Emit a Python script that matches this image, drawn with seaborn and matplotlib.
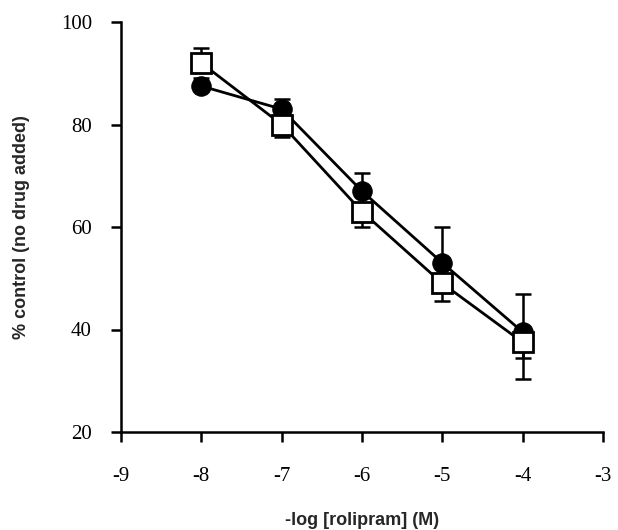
import matplotlib
matplotlib.use("Agg")
import matplotlib.pyplot as plt
import seaborn as sns
import pandas as pd

log_conc = [-8, -7, -6, -5, -4]
circle_vals = [87.5, 83, 67, 53, 39.5]
circle_err_low = [0, 0, 0, 0, 5]
circle_err_high = [1.5, 2, 3.5, 7, 7.5]
square_vals = [92, 80, 63, 49, 37.5]
square_err_low = [0, 2.5, 3, 3.5, 7.2]
square_err_high = [3, 0, 0, 0, 0]

df = pd.DataFrame({
    "x": log_conc * 2,
    "y": circle_vals + square_vals,
    "series": ["circle"] * 5 + ["square"] * 5,
})

sns.set_style("white")
plt.rcParams["axes.unicode_minus"] = False
fig = plt.figure(figsize=(6.18, 5.30), dpi=100)
ax = fig.add_axes([121/618, 1 - 432/530, (603-121)/618, (432-22)/530])

# error bars
ax.errorbar(log_conc, circle_vals, yerr=[circle_err_low, circle_err_high], fmt="none",
            ecolor="black", elinewidth=1.8, capsize=6, capthick=1.8, zorder=2)
ax.errorbar(log_conc, square_vals, yerr=[square_err_low, square_err_high], fmt="none",
            ecolor="black", elinewidth=1.8, capsize=6, capthick=1.8, zorder=2)

sns.lineplot(data=df[df.series == "circle"], x="x", y="y", color="black", lw=2,
             marker="o", markersize=14, markerfacecolor="black",
             markeredgecolor="black", ax=ax, zorder=3)
sns.lineplot(data=df[df.series == "square"], x="x", y="y", color="black", lw=2,
             marker="s", markersize=14, markerfacecolor="white",
             markeredgecolor="black", markeredgewidth=2, ax=ax, zorder=4)

ax.set_xlim(-9, -3)
ax.set_ylim(20, 100)
ax.set_xticks([-9, -8, -7, -6, -5, -4, -3])
ax.set_yticks([20, 40, 60, 80, 100])
for s in ["top", "right"]:
    ax.spines[s].set_visible(False)
for s in ["left", "bottom"]:
    ax.spines[s].set_linewidth(1.8)
    ax.spines[s].set_color("black")
ax.tick_params(axis="both", direction="out", length=7, width=1.8, colors="black",
               labelsize=15, bottom=True, left=True)
ax.tick_params(axis="y", pad=14)
ax.tick_params(axis="x", pad=18)
for lab in ax.get_xticklabels() + ax.get_yticklabels():
    lab.set_family("Liberation Serif")
ax.set_xlabel("-log [rolipram] (M)", fontsize=13, fontweight="bold",
              family="Liberation Sans", labelpad=19)
ax.set_ylabel("% control (no drug added)", fontsize=13, fontweight="bold",
              family="Liberation Sans", labelpad=22)
ax.grid(False)
fig.savefig("out.png", dpi=100)
